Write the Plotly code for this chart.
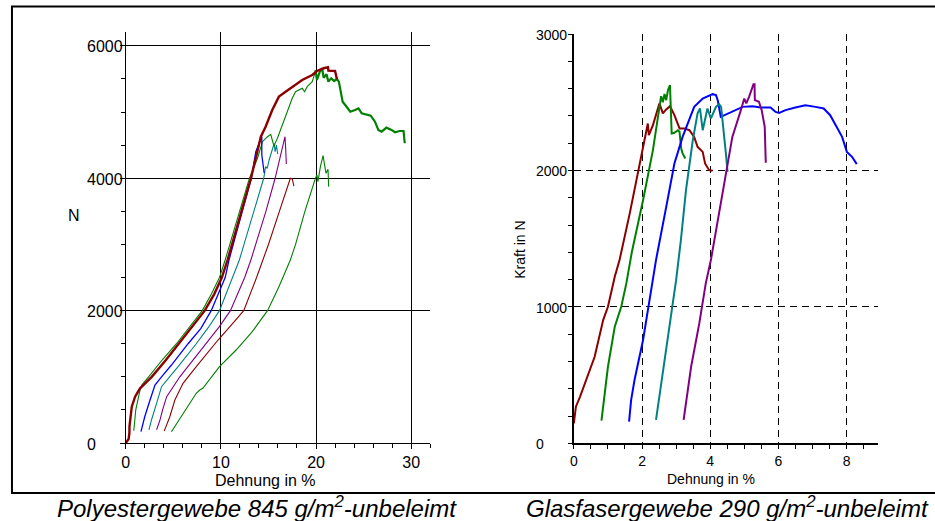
import plotly.graph_objects as go

W, H = 935, 521

# ---------------- Left chart: Polyestergewebe (x: Dehnung in %, y: N) ----------------
pe_darkred_x = [0, 0.3, 0.38, 0.39, 0.63, 0.98, 1.5, 1.85, 2.73, 4.2, 5.6, 7.0, 8.3, 9.3, 10.1, 10.7,
                11.17, 12.16, 13.16, 14.2, 14.7, 15.4, 16.1, 16.8, 17.5, 17.85, 18.55, 19.6, 20.1,
                20.8, 21.26, 21.3, 22.0, 22.2]
pe_darkred_y = [0, 60, 150, 250, 549, 700, 826, 876, 1000, 1250, 1500, 1750, 2000, 2250, 2500, 2765,
                3000, 3500, 4000, 4628, 4779, 5032, 5233, 5308, 5374, 5409, 5485, 5560, 5621,
                5662, 5677, 5626, 5621, 5495]

pe_green_x = [0.84, 1.05, 1.5, 1.7, 2.4, 3.8, 5.33, 6.7, 8.04, 9.0, 9.85, 10.45, 10.95, 11.95, 13.0,
              13.85, 14.37, 14.9, 15.24, 15.4, 15.6, 15.7, 15.94, 16.46, 16.98, 17.5, 17.85, 18.2,
              18.55, 18.8, 19.07, 19.6, 19.94]
pe_green_y = [186, 500, 801, 880, 1000, 1250, 1500, 1750, 2000, 2250, 2500, 2765, 3000, 3500, 4000,
              4302, 4553, 4628, 4664, 4578, 4477, 4528, 4604, 4805, 5006, 5208, 5308, 5334,
              5359, 5308, 5384, 5460, 5611]

pe_green_tail_x = [19.94, 20.1, 20.4, 20.64, 20.8, 21.1, 21.3, 21.6, 21.9, 22.2, 22.4, 22.55, 22.8,
                   23.07, 23.6, 24.1, 24.47, 24.8, 25.3, 25.75, 26.2, 26.55, 26.9, 27.4, 27.94,
                   28.3, 28.8, 29.2, 29.33]
pe_green_tail_y = [5636, 5485, 5611, 5662, 5520, 5571, 5460, 5510, 5470, 5500, 5460, 5360, 5157,
                   5107, 5006, 5032, 5057, 4982, 4966, 4946, 4855, 4730, 4704, 4765, 4730,
                   4695, 4714, 4714, 4529]

pe_blue_x = [1.6, 2.0, 2.55, 3.07, 3.76, 4.8, 6.55, 7.9, 8.98, 9.75, 10.45, 10.85, 11.3, 12.25,
             13.2, 13.67, 14.2, 14.3, 14.3, 14.45, 14.55]
pe_blue_y = [171, 400, 650, 876, 1000, 1178, 1500, 1733, 2000, 2250, 2500, 2765, 3000, 3500,
             4000, 4402, 4604, 4628, 4352, 4200, 4080]

pe_teal_x = [2.44, 2.7, 3.24, 3.76, 4.6, 5.5, 7.41, 8.7, 9.85, 11.2, 11.94, 12.43, 13.46, 14.5,
             14.7, 14.87, 15.07, 15.4, 15.6, 15.7, 15.84, 15.97]
pe_teal_y = [200, 348, 600, 851, 1000, 1153, 1500, 1750, 2000, 2500, 2765, 3000, 3500, 4000,
             4175, 4150, 4276, 4427, 4528, 4402, 4500, 4367]

pe_purple_x = [3.24, 3.6, 3.87, 4.3, 5.68, 8.46, 9.8, 11.0, 12.5, 13.15, 13.68, 14.73, 15.7, 16.1,
               16.46, 16.74, 16.8, 16.88]
pe_purple_y = [200, 350, 500, 700, 1000, 1500, 1750, 2000, 2500, 2765, 3000, 3500, 4000, 4226,
               4427, 4628, 4477, 4216]

pe_darkred2_x = [4.04, 4.63, 5.16, 6.02, 7.41, 9.7, 11.2, 12.4, 13.75, 14.45, 15.0, 16.15, 17.3,
                 17.5, 17.6, 17.68]
pe_darkred2_y = [180, 397, 650, 902, 1153, 1556, 1800, 2000, 2500, 2765, 3000, 3500, 4000,
                 3990, 3949, 3883]

pe_green2_x = [4.8, 5.5, 6.02, 7.41, 7.77, 8.1, 9.85, 11.6, 13.3, 14.9, 16.1, 17.3, 17.85, 18.83,
               19.94, 20.1, 20.2, 20.46, 20.74, 20.9, 21.05, 21.26, 21.33]
pe_green2_y = [171, 330, 449, 751, 801, 826, 1153, 1405, 1682, 2000, 2362, 2765, 3002, 3500,
               4000, 4049, 3949, 4175, 4341, 4226, 4075, 4135, 3873]

pe_yticks = [0, 2000, 4000, 6000]
pe_xticks = [0, 10, 20, 30]

# ---------------- Right chart: Glasfasergewebe (x: Dehnung in %, y: Kraft in N) ----------------
gf_darkred_x = [0, 0.06, 0.18, 0.37, 0.61, 0.86, 1.0, 1.2, 1.34, 1.64, 1.88, 2.03, 2.12, 2.17, 2.2,
                2.32, 2.51, 2.61, 2.71, 2.82, 2.95, 3.1, 3.24, 3.39, 3.53, 3.63, 3.78, 3.85, 3.97, 4.07]
gf_darkred_y = [146, 268, 341, 464, 634, 903, 1001, 1220, 1343, 1685, 1990, 2161, 2271, 2344, 2259,
                2332, 2491, 2418, 2447, 2471, 2405, 2308, 2308, 2295, 2246, 2173, 2136, 2051, 2002, 1997]

gf_green_x = [0.81, 0.9, 1.0, 1.2, 1.39, 1.54, 1.7, 2.03, 2.32, 2.56, 2.61, 2.66, 2.71, 2.76, 2.82,
              2.87, 2.95, 3.05, 3.1, 3.15, 3.19, 3.27]
gf_green_y = [166, 366, 561, 854, 1001, 1172, 1400, 1782, 2149, 2544, 2500, 2560, 2515, 2588, 2625,
              2271, 2276, 2295, 2283, 2161, 2125, 2088]

gf_blue_x = [1.62, 1.68, 1.78, 2.03, 2.22, 2.41, 2.71, 2.95, 3.19, 3.53, 3.78, 4.07, 4.17, 4.22,
             4.31, 4.65, 4.95, 5.24, 5.48, 5.77, 5.92, 6.02, 6.21, 6.5, 6.79, 7.09, 7.33, 7.52,
             7.72, 7.87, 8.01, 8.16, 8.3]
gf_blue_y = [159, 317, 464, 757, 1050, 1343, 1733, 2051, 2246, 2466, 2527, 2559, 2552, 2515,
             2393, 2429, 2466, 2471, 2461, 2461, 2429, 2422, 2442, 2461, 2478, 2466, 2454, 2405,
             2320, 2246, 2136, 2100, 2046]

gf_teal_x = [2.41, 2.56, 2.71, 2.85, 3.0, 3.14, 3.29, 3.49, 3.63, 3.7, 3.78, 3.92, 4.02, 4.17,
             4.26, 4.32, 4.41, 4.46, 4.51]
gf_teal_y = [171, 440, 684, 928, 1196, 1489, 1856, 2222, 2418, 2454, 2295, 2454, 2381, 2466,
             2486, 2466, 2271, 2125, 1990]

gf_purple_x = [3.22, 3.44, 3.68, 3.87, 4.02, 4.25, 4.46, 4.65, 4.9, 5.0, 5.06, 5.14, 5.27, 5.3,
               5.31, 5.43, 5.51, 5.56, 5.6, 5.63]
gf_purple_y = [171, 561, 879, 1172, 1343, 1680, 1978, 2246, 2442, 2527, 2491, 2539, 2632, 2632,
               2515, 2503, 2442, 2356, 2320, 2056]

gf_yticks = [0, 1000, 2000, 3000]
gf_xticks = [0, 2, 4, 6, 8]

DARKRED = "#8B0000"
GREEN = "#008000"
BLUE = "#0000FF"
TEAL = "#008080"
PURPLE = "#800080"
FONT = "Liberation Sans, Arial, sans-serif"

fig = go.Figure()

def add(x, y, color, width, xa, ya):
    fig.add_trace(go.Scatter(x=x, y=y, mode="lines", line=dict(color=color, width=width),
                             xaxis=xa, yaxis=ya, showlegend=False, hoverinfo="skip"))

# left chart (thin first, thick on top)
add(pe_green2_x, pe_green2_y, GREEN, 1.1, "x", "y")
add(pe_darkred2_x, pe_darkred2_y, DARKRED, 1.1, "x", "y")
add(pe_purple_x, pe_purple_y, PURPLE, 1.1, "x", "y")
add(pe_teal_x, pe_teal_y, TEAL, 1.1, "x", "y")
add(pe_green_x, pe_green_y, GREEN, 1.1, "x", "y")
add(pe_blue_x, pe_blue_y, BLUE, 1.3, "x", "y")
add(pe_green_tail_x, pe_green_tail_y, GREEN, 2.2, "x", "y")
add(pe_darkred_x, pe_darkred_y, DARKRED, 2.4, "x", "y")

# right chart
add(gf_darkred_x, gf_darkred_y, DARKRED, 2, "x2", "y2")
add(gf_green_x, gf_green_y, GREEN, 2, "x2", "y2")
add(gf_blue_x, gf_blue_y, BLUE, 2, "x2", "y2")
add(gf_teal_x, gf_teal_y, TEAL, 2, "x2", "y2")
add(gf_purple_x, gf_purple_y, PURPLE, 2, "x2", "y2")

def px_x(p):
    return p / W

def px_y(p):
    return 1 - p / H

fig.update_layout(
    width=W, height=H, autosize=False,
    margin=dict(l=0, r=0, t=0, b=0),
    paper_bgcolor="white", plot_bgcolor="white",
    font=dict(family=FONT, color="black"),
    xaxis=dict(domain=[px_x(122.3), px_x(428)], range=[0, 32], tickvals=pe_xticks,
               showgrid=True, gridcolor="black", gridwidth=1, zeroline=False,
               showline=True, linecolor="black", linewidth=1,
               ticks="outside", ticklen=5, tickcolor="black",
               minor=dict(dtick=2, ticks="outside", ticklen=4, tickcolor="black", showgrid=False),
               tickfont=dict(size=16), anchor="y", fixedrange=True),
    yaxis=dict(domain=[px_y(443), px_y(32)], range=[0, 6210], tickvals=pe_yticks,
               showticklabels=False,
               showgrid=True, gridcolor="black", gridwidth=1, zeroline=False,
               showline=True, linecolor="black", linewidth=1,
               ticks="outside", ticklen=5, tickcolor="black",
               minor=dict(dtick=500, ticks="outside", ticklen=4, tickcolor="black", showgrid=False),
               anchor="x", fixedrange=True),
    xaxis2=dict(domain=[px_x(572.3), px_x(878)], range=[0, 8.93], tickvals=gf_xticks,
                showgrid=True, gridcolor="black", gridwidth=1, griddash="7px,5px", zeroline=False,
                showline=True, linecolor="black", linewidth=1.5,
                ticks="outside", ticklen=4, tickcolor="black",
                minor=dict(dtick=0.5, ticks="outside", ticklen=4, tickcolor="black", showgrid=False),
                tickfont=dict(size=14), anchor="y2", fixedrange=True),
    yaxis2=dict(domain=[px_y(443.3), px_y(34)], range=[0, 3000], tickvals=gf_yticks,
                showticklabels=False,
                showgrid=True, gridcolor="black", gridwidth=1, griddash="7px,5px", zeroline=False,
                showline=True, linecolor="black", linewidth=1.5,
                ticks="outside", ticklen=4, tickcolor="black",
                minor=dict(dtick=200, ticks="outside", ticklen=4, tickcolor="black", showgrid=False),
                anchor="x2", fixedrange=True),
)

ann = []
# left-aligned y tick labels
for v in pe_yticks:
    ann.append(dict(x=px_x(81), y=v, xref="paper", yref="y", text=str(v), showarrow=False,
                    xanchor="left", yanchor="middle", font=dict(size=16), yshift=-1))
for v in gf_yticks:
    ann.append(dict(x=px_x(532), y=v, xref="paper", yref="y2", text=str(v), showarrow=False,
                    xanchor="left", yanchor="middle", font=dict(size=14), yshift=-1))

# axis titles
ann.append(dict(x=px_x(263), y=px_y(480), xref="paper", yref="paper", text="Dehnung in %",
                showarrow=False, xanchor="center", yanchor="middle", font=dict(size=16)))
ann.append(dict(x=px_x(70), y=px_y(216), xref="paper", yref="paper", text="N",
                showarrow=False, xanchor="center", yanchor="middle", font=dict(size=16)))
ann.append(dict(x=px_x(710), y=px_y(479), xref="paper", yref="paper", text="Dehnung in %",
                showarrow=False, xanchor="center", yanchor="middle", font=dict(size=14)))
ann.append(dict(x=px_x(518), y=px_y(250), xref="paper", yref="paper", text="Kraft in N",
                showarrow=False, xanchor="center", yanchor="middle", textangle=-90,
                font=dict(size=14)))

# captions
ann.append(dict(x=px_x(254), y=px_y(507), xref="paper", yref="paper",
                text="<i>Polyestergewebe 845 g/m<sup>2</sup>-unbeleimt</i>",
                showarrow=False, xanchor="center", yanchor="middle", font=dict(size=24)))
ann.append(dict(x=px_x(727), y=px_y(507), xref="paper", yref="paper",
                text="<i>Glasfasergewebe 290 g/m<sup>2</sup>-unbeleimt</i>",
                showarrow=False, xanchor="center", yanchor="middle", font=dict(size=24)))

fig.update_layout(annotations=ann)

# surrounding frame
fig.add_shape(type="rect", xref="paper", yref="paper",
              x0=px_x(8), x1=1.02, y0=px_y(493), y1=px_y(6.5),
              line=dict(color="black", width=2), fillcolor="rgba(0,0,0,0)", layer="above")

fig.write_html("out.html", config={"displayModeBar": False},
               post_script="document.body.style.margin='0';document.body.style.overflow='hidden';")
